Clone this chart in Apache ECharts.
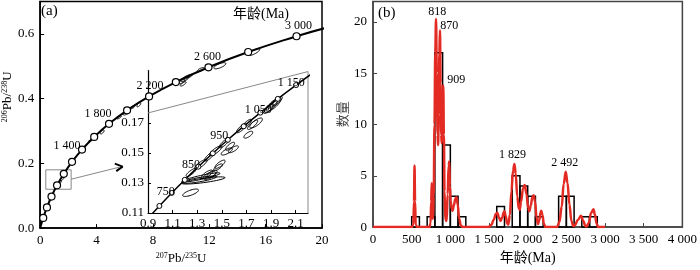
<!DOCTYPE html>
<html><head><meta charset="utf-8">
<script src="https://cdn.jsdelivr.net/npm/echarts@6/dist/echarts.min.js"></script>
<style>html,body{margin:0;padding:0;background:#fff}#c{width:700px;height:270px}</style>
</head><body><div id="c"></div>
<script>
// ---------- Panel (a): concordia (every 200 Ma) ----------
const concordiaAges = [0,200,400,600,800,1000,1200,1400,1600,1800,2000,2200,2400,2600,2800,3000,3100];
const concordiaX = [0,0.2177,0.4828,0.8056,1.1987,1.6774,2.2603,2.9701,3.8344,4.8869,6.1685,7.7292,9.6296,11.9437,14.7617,18.1931,20.1794];
const concordiaY = [0,0.0315,0.0640,0.0975,0.1321,0.1678,0.2046,0.2426,0.2817,0.3221,0.3638,0.4067,0.4511,0.4968,0.5440,0.5926,0.6175];
const mainAgeLabels = {1400:'1 400',1800:'1 800',2200:'2 200',2600:'2 600',3000:'3 000'};
// inset concordia (every 50 Ma)
const insetAges = [650,700,750,800,850,900,950,1000,1050,1100,1150,1200];
const insetX = [0.8968,0.9925,1.0931,1.1987,1.3097,1.4263,1.5488,1.6774,1.8126,1.9545,2.1036,2.2603];
const insetY = [0.1061,0.1147,0.1234,0.1321,0.1409,0.1498,0.1588,0.1678,0.1769,0.1861,0.1953,0.2046];
const insetAgeLabels = {750:'750',850:'850',950:'950',1050:'1 050',1150:'1 150'};
// error ellipses: [centre x, centre y, semi-major dx, semi-major dy, minor/major ratio]
const mainEllipses = [
  [12.75,0.5015,0.42,0.0075,0.32],[15.15,0.5435,0.42,0.009,0.3],[11.4,0.4895,0.25,0.005,0.35],
  [10.25,0.4605,0.3,0.006,0.35],[10.05,0.4525,0.22,0.005,0.4],[10.15,0.4455,0.2,0.006,0.35],
  [10.4,0.4665,0.22,0.005,0.35],[10.6,0.47,0.2,0.004,0.35],[7.0,0.381,0.12,0.006,0.45],
  [6.55,0.373,0.15,0.004,0.35],[6.1,0.355,0.2,0.005,0.35],[5.6,0.342,0.15,0.004,0.35],
  [4.4,0.297,0.12,0.006,0.45],[3.6,0.272,0.15,0.005,0.3],[1.55,0.152,0.15,0.006,0.35],
  [1.35,0.140,0.15,0.006,0.35],[1.7,0.162,0.12,0.006,0.35]
];
const insetEllipses = [
  [1.246,0.1235,0.064,0.0019,0.3],[1.35,0.1317,0.176,0.0019,0.1],[1.316,0.1322,0.142,0.002,0.12],
  [1.33,0.1337,0.156,0.0028,0.1],[1.40,0.1350,0.05,0.002,0.4],[1.38,0.1358,0.045,0.0025,0.35],
  [1.42,0.1362,0.04,0.002,0.4],[1.485,0.1425,0.04,0.0025,0.35],[1.47,0.1405,0.035,0.002,0.35],
  [1.54,0.1510,0.045,0.002,0.35],[1.594,0.1525,0.04,0.002,0.35],[1.567,0.1545,0.035,0.0025,0.35],
  [1.715,0.1622,0.035,0.002,0.4],[1.778,0.1700,0.05,0.003,0.35],[1.75,0.1688,0.04,0.003,0.3],
  [1.90,0.1810,0.05,0.004,0.3],[1.93,0.1825,0.05,0.004,0.3],[1.88,0.1795,0.04,0.003,0.3],
  [1.95,0.1845,0.04,0.003,0.3],[1.915,0.1830,0.04,0.003,0.3],
  [1.25,0.1370,0.04,0.0025,0.3],[1.33,0.1425,0.05,0.003,0.3],[1.40,0.1478,0.04,0.003,0.3],
  [1.45,0.1515,0.05,0.003,0.3],[1.52,0.1566,0.04,0.003,0.3],[1.66,0.1666,0.04,0.003,0.3],[1.70,0.1693,0.04,0.003,0.3]
];
const mainXTicks = [0,4,8,12,16,20];
const mainYTicks = [0,0.2,0.4,0.6];
const insetXTicks = [0.9,1.1,1.3,1.5,1.7,1.9,2.1];
const insetYTicks = [0.11,0.13,0.15,0.17];

// ---------- Panel (b): histogram + KDE ----------
const histStart = [500,700,800,900,1000,1100,1600,1800,1900,2000,2100,2400,2500,2700,2800];
const histEnd   = [600,800,900,1000,1100,1200,1700,1900,2000,2100,2200,2500,2600,2800,2900];
const histCount = [1,1,17,8,3,1,2,5,4,3,1,3,3,1,1];
const kdeAge = [0,500,522,530,537,544,552,570,730,745,752,760,767,775,785,795,805,815,825,835,842,850,858,866,874,882,889,897,904,909,916,925,935,952,965,978,986,995,1005,1018,1029,1045,1065,1080,1095,1115,1135,1160,
  1490,1530,1560,1590,1607,1630,1649,1670,1690,1700,1715,1735,1750,1770,1790,1810,1829,1845,1865,1885,1897,1915,1940,1962,1985,2005,2021,2040,2060,2077,2095,2115,2133,2150,2165,2175,2190,2210,2230,
  2380,2410,2440,2465,2492,2515,2540,2565,2590,2610,2650,2688,2720,2745,2761,2790,2820,2851,2870,2890,2911,3000];
const kdeValue = [0,0,0.2,2.5,6.0,2.5,0.2,0,0,0.4,2.5,4.3,2,0.8,3,10,17,20.3,15,9,8,11,17,19.2,14,9,8.2,11,13.6,13.8,9,3.5,0.7,0.6,3.2,6,6.4,4,2.5,1.8,1.6,2.1,2.8,2.9,2.2,0.8,0.15,0,
  0,0.2,0.7,1.3,1.4,0.9,0.6,0.9,1.45,1.55,1.1,0.35,0.25,1.2,3.5,5.5,6.15,5.2,3,1.8,1.7,2.5,3.8,4.1,3.2,1.9,1.55,2.1,2.9,3.1,2.5,0.9,0.3,0.7,1.4,1.6,1.2,0.3,0,
  0,0.5,2,4.2,5.4,4.3,2.2,0.6,0.1,0.2,0.7,1.1,0.6,0.1,0.05,0.4,1.4,1.75,1.2,0.35,0,0];
const peakAge = [818,870,909,1829,2492];
const peakValue = [20.3,19.2,13.8,6.15,5.4];
const peakText = ['818','870','909','1 829','2 492'];
const ageTicks = [0,500,1000,1500,2000,2500,3000,3500,4000];
const ageTickLabels = ['0','500','1 000','1 500','2 000','2 500','3 000','3 500','4 000'];
const countTicks = [0,5,10,15,20];

// ---------- helpers ----------
const SERIF = "'Liberation Serif','Noto Sans CJK SC',serif";
const txt = (size) => ({fontFamily: SERIF, fontSize: size, color: '#000'});

function ellipseItem(params, api) {
  const c = api.coord([api.value(0), api.value(1)]);
  const e = api.coord([api.value(0) + api.value(2), api.value(1) + api.value(3)]);
  const ux = e[0] - c[0], uy = e[1] - c[1];
  const a = Math.hypot(ux, uy), b = a * api.value(4);
  const cs = ux / a, sn = uy / a, pts = [];
  for (let i = 0; i < 40; i++) {
    const t = i / 40 * 2 * Math.PI, x = a * Math.cos(t), y = b * Math.sin(t);
    pts.push([c[0] + x * cs - y * sn, c[1] + x * sn + y * cs]);
  }
  return {type: 'polygon', shape: {points: pts}, style: {fill: 'none', stroke: '#000', lineWidth: 1}};
}
function barItem(params, api) {
  const p0 = api.coord([api.value(0), api.value(2)]);
  const p1 = api.coord([api.value(1), 0]);
  return {type: 'rect', shape: {x: p0[0], y: p0[1], width: p1[0] - p0[0], height: p1[1] - p0[1]},
          style: {fill: 'none', stroke: '#000', lineWidth: 1.5}};
}

const mainOffsets = {1400: [-15, -4], 1800: [-11, -9.5], 2200: [1, -11], 2600: [-1, -10], 3000: [2, -10]};
const insetOffsets = {750: [-6, -1.5], 850: [-7.5, -2], 950: [-8.5, -3.5], 1050: [-2, -3], 1150: [-5, -2]};
const peakOffsets = [[1, -7], [9, -4], [13, -6], [-2, -9], [-1, -8.5]];
const labelStyle = (text, off) => ({show: true, position: 'inside', formatter: text, offset: off, ...txt(12), opacity: 1});

const concordiaLine = concordiaX.map((x, i) => [x, concordiaY[i]]);
const mainCircles = [];
concordiaAges.forEach((t, i) => {
  if (t === 0 || t > 3000) return;
  const item = {value: [concordiaX[i], concordiaY[i]]};
  if (mainAgeLabels[t]) item.label = labelStyle(mainAgeLabels[t], mainOffsets[t]);
  mainCircles.push(item);
});
const insetLine = insetX.map((x, i) => [x, insetY[i]]);
const insetCircles = [];
insetAges.forEach((t, i) => {
  if (t < 700 || t > 1150) return;
  const item = {value: [insetX[i], insetY[i]]};
  if (insetAgeLabels[t]) item.label = labelStyle(insetAgeLabels[t], insetOffsets[t]);
  insetCircles.push(item);
});
const histData = histStart.map((s, i) => [s, histEnd[i], histCount[i]]);
const kdeData = kdeAge.map((a, i) => [a, kdeValue[i]]);
const peakData = peakAge.map((a, i) => ({value: [a, peakValue[i]], label: labelStyle(peakText[i], peakOffsets[i])}));

const axisBase = (color, w) => ({
  axisLine: {show: true, onZero: false, lineStyle: {color: color, width: w}},
  axisTick: {show: true, inside: true, length: 4, lineStyle: {color: color, width: 1}},
  splitLine: {show: false}
});
const supRich = {s: {fontFamily: SERIF, fontSize: 8, verticalAlign: 'top', color: '#000'}};

const option = {
  animation: false,
  backgroundColor: '#fff',
  title: [
    {text: '(a)', left: 41, top: 4, padding: 0, textStyle: {...txt(15), fontWeight: 'normal'}},
    {text: '年龄(Ma)', left: 233, top: 7, padding: 0, textStyle: {...txt(14), fontWeight: 'normal'}},
    {text: '(b)', left: 378, top: 6, padding: 0, textStyle: {...txt(15), fontWeight: 'normal'}}
  ],
  grid: [
    {left: 37, top: 1.5, width: 285, height: 235.5, show: true, borderColor: '#000', borderWidth: 1.5, backgroundColor: 'transparent'},
    {left: 148, top: 70.5, width: 160, height: 142.5, show: false},
    {left: 373, top: 1.5, width: 311, height: 235.2, show: true, borderColor: '#444', borderWidth: 1.5, backgroundColor: 'transparent'}
  ],
  xAxis: [
    {gridIndex: 0, type: 'value', min: 0, max: 20, interval: 4, ...axisBase('#000', 1.5),
     axisLabel: {...txt(13), margin: 6},
     name: '{s|207}Pb/{s|235}U', nameLocation: 'middle', nameGap: 19,
     nameTextStyle: {...txt(13), rich: supRich}},
    {gridIndex: 1, type: 'value', min: 0.9, max: 2.2, ...axisBase('#000', 1.2),
     axisTick: {show: true, inside: true, length: 3, customValues: insetXTicks, lineStyle: {color: '#000'}},
     axisLabel: {...txt(13), margin: 4, customValues: insetXTicks, formatter: v => v.toFixed(1)}},
    {gridIndex: 2, type: 'value', min: 0, max: 4000, interval: 500, ...axisBase('#444', 1.5),
     axisLabel: {...txt(13), margin: 6, formatter: v => ageTickLabels[ageTicks.indexOf(v)]},
     name: '年龄(Ma)', nameLocation: 'middle', nameGap: 14, nameTextStyle: txt(14)}
  ],
  yAxis: [
    {gridIndex: 0, type: 'value', min: 0, max: 0.7, ...axisBase('#000', 1.5),
     axisTick: {show: true, inside: true, length: 4, customValues: mainYTicks, lineStyle: {color: '#000'}},
     axisLabel: {...txt(13), margin: 6, customValues: mainYTicks, formatter: v => v.toFixed(1)},
     name: '{s|206}Pb/{s|238}U', nameLocation: 'middle', nameGap: 16, nameRotate: 90,
     nameTextStyle: {...txt(13), rich: supRich, padding: [0, 0, 0, 36]}},
    {gridIndex: 1, type: 'value', min: 0.11, max: 0.205, ...axisBase('#000', 1.2),
     axisTick: {show: true, inside: true, length: 3, customValues: insetYTicks, lineStyle: {color: '#000'}},
     axisLabel: {...txt(13), margin: 4, customValues: insetYTicks, formatter: v => v.toFixed(2)}},
    {gridIndex: 2, type: 'value', min: 0, max: 22, ...axisBase('#444', 1.5),
     axisTick: {show: true, inside: true, length: 4, customValues: countTicks, lineStyle: {color: '#444'}},
     axisLabel: {...txt(13), margin: 6, customValues: countTicks},
     name: '数量', nameLocation: 'middle', nameGap: 10, nameRotate: 90, nameTextStyle: {...txt(13), color: '#444'}}
  ],
  series: [
    // zoom box and arrow in panel (a)
    {type: 'line', xAxisIndex: 0, yAxisIndex: 0, silent: true, symbol: 'none', clip: false,
     lineStyle: {color: '#888', width: 1},
     data: [[0.4, 0.12], [2.2, 0.12], [2.2, 0.18], [0.4, 0.18], [0.4, 0.12]]},
    {type: 'line', xAxisIndex: 0, yAxisIndex: 0, silent: true, symbol: 'none', clip: false,
     lineStyle: {color: '#888', width: 1}, data: [[2.2, 0.151], [5.6, 0.188]]},
    {type: 'line', xAxisIndex: 0, yAxisIndex: 0, silent: true, symbol: 'none', clip: false,
     lineStyle: {color: '#000', width: 2}, data: [[5.3, 0.199], [5.85, 0.19], [5.4, 0.176]]},
    // main concordia
    {type: 'custom', xAxisIndex: 0, yAxisIndex: 0, renderItem: ellipseItem, data: mainEllipses, encode: {x: 0, y: 1}, silent: true, z: 3},
    {type: 'line', xAxisIndex: 0, yAxisIndex: 0, data: concordiaLine, smooth: true, symbol: 'none',
     lineStyle: {color: '#000', width: 2}, z: 4, silent: true},
    {type: 'scatter', xAxisIndex: 0, yAxisIndex: 0, data: mainCircles, symbol: 'circle', symbolSize: 7,
     itemStyle: {color: '#fff', borderColor: '#000', borderWidth: 1.2, opacity: 1}, z: 5, silent: true},
    // inset
    {type: 'line', xAxisIndex: 1, yAxisIndex: 1, silent: true, symbol: 'none', clip: false,
     lineStyle: {color: '#888', width: 1}, data: [[0.9, 0.1767], [2.2, 0.2043], [2.2, 0.11]]},
    {type: 'custom', xAxisIndex: 1, yAxisIndex: 1, renderItem: ellipseItem, data: insetEllipses, encode: {x: 0, y: 1}, silent: true, z: 3},
    {type: 'line', xAxisIndex: 1, yAxisIndex: 1, data: insetLine, smooth: true, symbol: 'none',
     lineStyle: {color: '#000', width: 1.5}, z: 4, silent: true},
    {type: 'scatter', xAxisIndex: 1, yAxisIndex: 1, data: insetCircles, symbol: 'circle', symbolSize: 5,
     itemStyle: {color: '#fff', borderColor: '#000', borderWidth: 1, opacity: 1}, z: 5, silent: true},
    // panel (b)
    {type: 'custom', xAxisIndex: 2, yAxisIndex: 2, renderItem: barItem, data: histData, encode: {x: [0, 1], y: 2}, silent: true, z: 2},
    {type: 'line', xAxisIndex: 2, yAxisIndex: 2, data: kdeData, smooth: 0.4, smoothMonotone: 'x', symbol: 'none',
     lineStyle: {color: '#e32b24', width: 2.5}, z: 3, silent: true},
    {type: 'scatter', xAxisIndex: 2, yAxisIndex: 2, data: peakData, symbolSize: 0, silent: true, z: 6,
     itemStyle: {opacity: 1}}
  ]
};
echarts.init(document.getElementById('c'), null, {renderer: 'canvas'}).setOption(option);
</script></body></html>
